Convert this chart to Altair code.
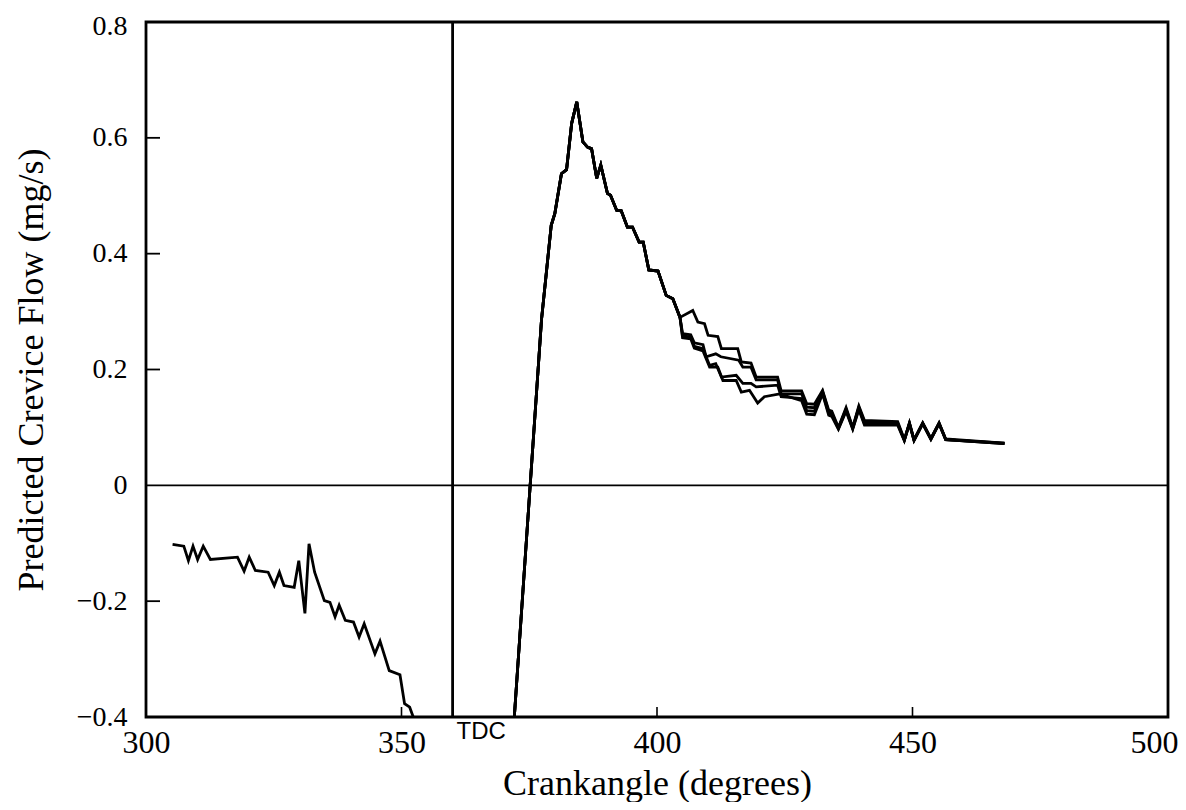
import altair as alt
import pandas as pd

# ---------------- data ----------------
left_x = [305.2, 307.4, 308.3, 309.2, 310.1, 311.2, 312.6, 317.9, 319.2, 320.2, 321.4, 323.9,
          325.1, 326.1, 327.0, 329.0, 329.9, 331.1, 331.9, 333.0, 334.9, 336.0, 337.0, 337.8,
          339.0, 340.6, 341.7, 342.7, 344.8, 345.8, 347.6, 349.7, 350.6, 351.6, 352.3, 352.6]
left_y = [-0.102, -0.105, -0.130, -0.105, -0.128, -0.105, -0.128, -0.124, -0.148, -0.124, -0.147, -0.150,
          -0.173, -0.150, -0.173, -0.176, -0.130, -0.221, -0.101, -0.150, -0.199, -0.202, -0.227, -0.207,
          -0.233, -0.236, -0.262, -0.239, -0.291, -0.269, -0.320, -0.327, -0.377, -0.383, -0.400, -0.450]

common_x = [371.3, 377.4, 379.3, 380.0, 381.3, 382.3, 383.3, 384.3, 385.5, 386.4, 387.2, 388.2, 389.0,
            390.3, 390.9, 392.1, 393.0, 394.2, 395.2, 396.5, 397.3, 398.4, 400.2, 401.8, 403.1, 404.5]
common_y = [-0.500, 0.286, 0.449, 0.469, 0.538, 0.545, 0.625, 0.662, 0.593, 0.584, 0.581, 0.530, 0.553,
            0.504, 0.501, 0.475, 0.474, 0.446, 0.446, 0.420, 0.420, 0.372, 0.370, 0.328, 0.322, 0.290]

mid1_x = [407.0, 408.0, 409.3, 410.0, 411.9, 412.6, 415.8, 416.5, 418.4, 419.4, 423.6, 424.3, 428.3]
mid1_y = [0.302, 0.282, 0.279, 0.259, 0.257, 0.236, 0.236, 0.213, 0.211, 0.187, 0.187, 0.163, 0.163]

mid2_x = [405.0, 406.6, 407.3, 409.0, 409.6, 411.5, 412.5, 416.0, 416.8, 418.4, 419.4, 423.6, 424.3, 428.3]
mid2_y = [0.262, 0.260, 0.246, 0.243, 0.222, 0.227, 0.222, 0.216, 0.204, 0.204, 0.182, 0.182, 0.158, 0.158]

mid3_x = [405.0, 406.6, 407.3, 409.0, 410.3, 411.5, 412.6, 415.5, 416.8, 418.4, 419.4, 423.6, 424.3, 428.3]
mid3_y = [0.258, 0.256, 0.240, 0.236, 0.207, 0.210, 0.187, 0.190, 0.176, 0.176, 0.170, 0.173, 0.153, 0.150]

mid4_x = [405.0, 406.6, 407.3, 409.0, 410.3, 411.9, 412.9, 415.5, 416.5, 418.1, 419.7, 421.0, 424.0, 428.3]
mid4_y = [0.255, 0.253, 0.237, 0.232, 0.204, 0.204, 0.181, 0.181, 0.161, 0.164, 0.142, 0.153, 0.158, 0.146]

tail_x = [429.3, 430.8, 432.4, 433.6, 434.2, 435.5, 437.0, 438.3, 439.5, 440.6, 447.1, 448.4, 449.4,
          450.3, 452.0, 453.6, 455.2, 456.5, 468.0]
tail1_y = [0.141, 0.140, 0.164, 0.130, 0.128, 0.100, 0.134, 0.100, 0.137, 0.112, 0.110, 0.079, 0.108,
           0.079, 0.108, 0.081, 0.108, 0.080, 0.073]
tail2_y = [0.135, 0.134, 0.162, 0.127, 0.125, 0.099, 0.132, 0.099, 0.135, 0.109, 0.108, 0.078, 0.107,
           0.078, 0.107, 0.080, 0.107, 0.079, 0.073]
tail3_y = [0.129, 0.128, 0.160, 0.124, 0.122, 0.098, 0.130, 0.098, 0.133, 0.106, 0.106, 0.078, 0.107,
           0.078, 0.107, 0.080, 0.107, 0.079, 0.072]
tail4_y = [0.123, 0.122, 0.158, 0.121, 0.119, 0.097, 0.128, 0.097, 0.131, 0.104, 0.104, 0.077, 0.106,
           0.077, 0.106, 0.079, 0.106, 0.079, 0.072]

x_ticks = [300, 350, 400, 450, 500]
y_ticks = [-0.4, -0.2, 0, 0.2, 0.4, 0.6, 0.8]
y_inner_ticks = [-0.2, 0.2, 0.4, 0.6]
x_inner_ticks = [350, 400, 450]
tdc_x = 360

# ---------------- build table ----------------
rows = []
def add(series, xs, ys):
    for i, (a, b) in enumerate(zip(xs, ys)):
        rows.append({"series": series, "i": i, "x": a, "y": b})

add("left", left_x, left_y)
mids = [(mid1_x, mid1_y, tail1_y), (mid2_x, mid2_y, tail2_y), (mid3_x, mid3_y, tail3_y), (mid4_x, mid4_y, tail4_y)]
for k, (mx, my, ty) in enumerate(mids):
    add(f"run{k+1}", common_x + mx + tail_x, common_y + my + ty)
df = pd.DataFrame(rows)

W, H = 1022, 695
SERIF = "Liberation Serif"

xscale = alt.Scale(domain=[300, 500], nice=False, zero=False)
yscale = alt.Scale(domain=[-0.4, 0.8], nice=False, zero=False)

label_expr_y = "datum.value == 0 ? '0' : (datum.value < 0 ? '\u2212' + format(-datum.value, '.1f') : format(datum.value, '.1f'))"

lines = alt.Chart(df).mark_line(color="black", strokeWidth=2.8, clip=True, strokeJoin="miter").encode(
    x=alt.X("x:Q", scale=xscale,
            axis=alt.Axis(values=x_ticks, title="Crankangle (degrees)", grid=False, domain=False, ticks=False,
                          labelFont=SERIF, labelFontSize=32, labelColor="black", labelPadding=10,
                          labelOffset={"condition": {"test": "datum.value == 500", "value": -14}, "value": 0},
                          titleFont=SERIF, titleFontSize=36, titleFontWeight="normal", titleColor="black",
                          titleY=77, titleBaseline="alphabetic", labelFlush=False)),
    y=alt.Y("y:Q", scale=yscale,
            axis=alt.Axis(values=y_ticks, title="Predicted Crevice Flow (mg/s)", grid=False, domain=False,
                          ticks=False, labelExpr=label_expr_y,
                          labelFont=SERIF, labelFontSize=28, labelColor="black", labelPadding=19,
                          labelOffset={"condition": {"test": "datum.value > 0.75", "value": 4}, "value": 0},
                          titleFont=SERIF, titleFontSize=36, titleFontWeight="normal", titleColor="black",
                          titleX=-104, titleY=H / 2, titleBaseline="alphabetic", labelFlush=False)),
    detail="series:N",
    order="i:Q",
)

zero_df = pd.DataFrame({"y": [0]})
zero_rule = alt.Chart(zero_df).mark_rule(color="black", strokeWidth=1.6).encode(
    y=alt.Y("y:Q", scale=yscale), x=alt.value(0), x2=alt.value(W))

tdc_df = pd.DataFrame({"x": [tdc_x], "label": ["TDC"]})
tdc_rule = alt.Chart(tdc_df).mark_rule(color="black", strokeWidth=2.8).encode(
    x=alt.X("x:Q", scale=xscale), y=alt.value(0), y2=alt.value(H))
tdc_text = alt.Chart(tdc_df).mark_text(font="Liberation Sans", fontSize=24, align="left", baseline="top",
                                       dx=4, color="black").encode(
    x=alt.X("x:Q", scale=xscale), y=alt.value(H + 3), text="label:N")

yt_df = pd.DataFrame({"y": y_inner_ticks})
y_ticks_in = alt.Chart(yt_df).mark_rule(color="black", strokeWidth=1.8).encode(
    y=alt.Y("y:Q", scale=yscale), x=alt.value(0), x2=alt.value(14))

xt_df = pd.DataFrame({"x": x_inner_ticks})
x_ticks_in = alt.Chart(xt_df).mark_rule(color="black", strokeWidth=1.6).encode(
    x=alt.X("x:Q", scale=xscale), y=alt.value(H - 10), y2=alt.value(H))

chart = alt.layer(zero_rule, tdc_rule, y_ticks_in, x_ticks_in, lines, tdc_text).properties(
    width=W, height=H,
    autosize=alt.AutoSizeParams(type="none"),
    padding={"left": 138, "top": 14, "right": 10, "bottom": 85},
    background="white",
).configure_view(stroke="black", strokeWidth=2.8)

chart.save("out.html", embed_options={"renderer": "svg", "actions": False})
